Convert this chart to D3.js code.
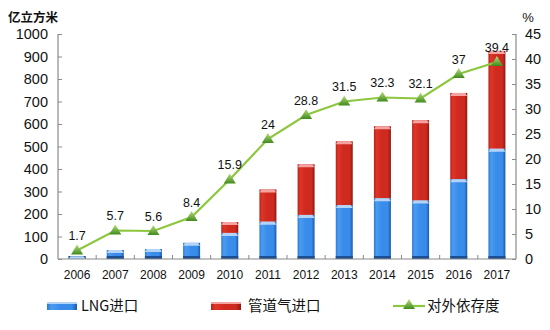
<!DOCTYPE html>
<html>
<head>
<meta charset="utf-8">
<script src="https://cdn.jsdelivr.net/npm/d3@7"></script>
<style>
  html, body { margin: 0; padding: 0; background: #fff; }
  svg { display: block; font-family: "Liberation Sans", Arial, sans-serif; }
</style>
</head>
<body>
<svg id="chart" width="550" height="330"></svg>
<script>
// Natural gas imports (亿立方米) and external dependency (%)
const years = ["2006", "2007", "2008", "2009", "2010", "2011", "2012", "2013", "2014", "2015", "2016", "2017"];
const lngImports = [12, 40, 44, 72, 116, 166, 196, 240, 270, 260, 355, 490];
const pipelineImports = [0, 0, 0, 0, 48, 143, 225, 283, 320, 357, 383, 435];
const dependency = [1.7, 5.7, 5.6, 8.4, 15.9, 24, 28.8, 31.5, 32.3, 32.1, 37, 39.4];
const leftTicks = [0, 100, 200, 300, 400, 500, 600, 700, 800, 900, 1000];
const rightTicks = [0, 5, 10, 15, 20, 25, 30, 35, 40, 45];

const svg = d3.select("#chart");
const x0 = 58, x1 = 516, yTop = 34, yBottom = 259;
const axisColor = "#8a8a8a";

const x = d3.scaleBand().domain(years).range([x0, x1]).padding(0);
const yL = d3.scaleLinear().domain([0, 1000]).range([yBottom, yTop]);
const yR = d3.scaleLinear().domain([0, 45]).range([yBottom, yTop]);

// gradients for the bevelled bars
const defs = svg.append("defs");
function barGradient(id, edgeL, light, main, edgeR) {
  const g = defs.append("linearGradient").attr("id", id).attr("x1", "0").attr("x2", "1").attr("y1", "0").attr("y2", "0");
  g.append("stop").attr("offset", "0").attr("stop-color", edgeL);
  g.append("stop").attr("offset", "0.15").attr("stop-color", light);
  g.append("stop").attr("offset", "0.45").attr("stop-color", main);
  g.append("stop").attr("offset", "0.82").attr("stop-color", main);
  g.append("stop").attr("offset", "1").attr("stop-color", edgeR);
}
barGradient("gBlue", "#2f78cf", "#4a9cf0", "#3a8ceb", "#1d5aa8");
barGradient("gRed", "#b8231a", "#de3527", "#cf2a1f", "#8e1811");
const tri = defs.append("linearGradient").attr("id", "gTri").attr("x1", "0").attr("x2", "0").attr("y1", "0").attr("y2", "1");
tri.append("stop").attr("offset", "0").attr("stop-color", "#b8e07a");
tri.append("stop").attr("offset", "1").attr("stop-color", "#3f8a1e");

// axes
const leftAxis = d3.axisLeft(yL).tickValues(leftTicks).tickFormat(d3.format("d")).tickSize(-4).tickPadding(10);
const gl = svg.append("g").attr("transform", `translate(${x0},0)`).call(leftAxis);
const rightAxis = d3.axisRight(yR).tickValues(rightTicks).tickFormat(d3.format("d")).tickSize(-4).tickPadding(9);
const gr = svg.append("g").attr("transform", `translate(${x1},0)`).call(rightAxis);
[gl, gr].forEach(g => {
  g.select(".domain").attr("stroke", axisColor).attr("stroke-width", 1.2).attr("d", `M0,${yTop}V${yBottom}`);
  g.selectAll(".tick line").attr("stroke", axisColor);
  g.selectAll(".tick text").attr("fill", "#111").style("font-size", "14.5px").attr("font-family", "Liberation Sans, Arial, sans-serif");
});

// bars
const bw = 17;
const barG = svg.append("g");
years.forEach((yr, i) => {
  const cx = x(yr) + x.bandwidth() / 2;
  const bx = cx - bw / 2;
  const lngTop = yL(lngImports[i]);
  const total = lngImports[i] + pipelineImports[i];
  const totTop = yL(total);
  // LNG part
  barG.append("rect").attr("x", bx).attr("y", lngTop).attr("width", bw).attr("height", yBottom - lngTop).attr("fill", "url(#gBlue)");
  // dark base
  barG.append("rect").attr("x", bx).attr("y", yBottom - 3).attr("width", bw).attr("height", 3).attr("fill", "#1b4f92");
  // pipeline part
  if (pipelineImports[i] > 0) {
    barG.append("rect").attr("x", bx).attr("y", totTop).attr("width", bw).attr("height", lngTop - totTop).attr("fill", "url(#gRed)");
    barG.append("path")
      .attr("d", `M${bx + 2},${totTop}H${bx + bw - 2}L${bx + bw},${totTop + 3}H${bx}Z`)
      .attr("fill", "#f3a3a0");
  }
  // blue cap
  const capH = Math.min(3, yBottom - lngTop);
  barG.append("path")
    .attr("d", `M${bx + 2},${lngTop}H${bx + bw - 2}L${bx + bw},${lngTop + capH}H${bx}Z`)
    .attr("fill", "#b3d4f7");
});

// bottom axis, drawn over bar bases
svg.append("line").attr("x1", x0).attr("x2", x1).attr("y1", yBottom).attr("y2", yBottom).attr("stroke", axisColor).attr("stroke-width", 1.2);
years.slice(1).forEach(yr => {
  svg.append("line").attr("x1", x(yr)).attr("x2", x(yr)).attr("y1", yBottom).attr("y2", yBottom - 4).attr("stroke", axisColor);
});
svg.append("g").selectAll("text").data(years).join("text")
  .attr("x", d => x(d) + x.bandwidth() / 2).attr("y", 279)
  .attr("text-anchor", "middle").attr("fill", "#111").style("font-size", "12px").text(d => d);

// dependency line
const px = (d, i) => x(years[i]) + x.bandwidth() / 2;
const line = d3.line().x(px).y(d => yR(d));
svg.append("path").datum(dependency).attr("d", line).attr("fill", "none").attr("stroke", "#8dc63f").attr("stroke-width", 2.2);
const triPath = "M0,-6L6,4H-6Z";
svg.append("g").selectAll("path").data(dependency).join("path")
  .attr("d", triPath)
  .attr("transform", (d, i) => `translate(${px(d, i)},${yR(d)})`)
  .attr("fill", "url(#gTri)");
svg.append("g").selectAll("text").data(dependency).join("text")
  .attr("x", px).attr("y", d => yR(d) - 10.5)
  .attr("text-anchor", "middle").attr("fill", "#111").style("font-size", "12.5px").text(d => d);

// unit labels
svg.append("text").attr("x", 8).attr("y", 22).attr("fill", "#111").style("font-size", "12.5px").style("font-weight", "bold")
  .attr("font-family", "Noto Sans CJK SC, sans-serif").text("亿立方米");
svg.append("text").attr("x", 528).attr("y", 22).attr("text-anchor", "middle").attr("fill", "#111").style("font-size", "13px").text("%");

// legend
const lg = svg.append("g").attr("font-family", "Noto Sans CJK SC, sans-serif");
lg.append("rect").attr("x", 47).attr("y", 302).attr("width", 30).attr("height", 8).attr("fill", "url(#gBlue)");
lg.append("rect").attr("x", 47).attr("y", 302).attr("width", 30).attr("height", 2).attr("fill", "#b3d4f7");
lg.append("text").attr("x", 81).attr("y", 311).attr("fill", "#111").style("font-size", "14.5px").text("LNG进口");
lg.append("rect").attr("x", 211).attr("y", 302).attr("width", 30).attr("height", 8).attr("fill", "url(#gRed)");
lg.append("rect").attr("x", 211).attr("y", 302).attr("width", 30).attr("height", 2).attr("fill", "#f3a3a0");
lg.append("text").attr("x", 248).attr("y", 311).attr("fill", "#111").style("font-size", "14.5px").text("管道气进口");
lg.append("line").attr("x1", 393).attr("x2", 425).attr("y1", 306).attr("y2", 306).attr("stroke", "#8dc63f").attr("stroke-width", 2.2);
lg.append("path").attr("d", triPath).attr("transform", "translate(409,305)").attr("fill", "url(#gTri)");
lg.append("text").attr("x", 427).attr("y", 311).attr("fill", "#111").style("font-size", "14.5px").text("对外依存度");
</script>
</body>
</html>
